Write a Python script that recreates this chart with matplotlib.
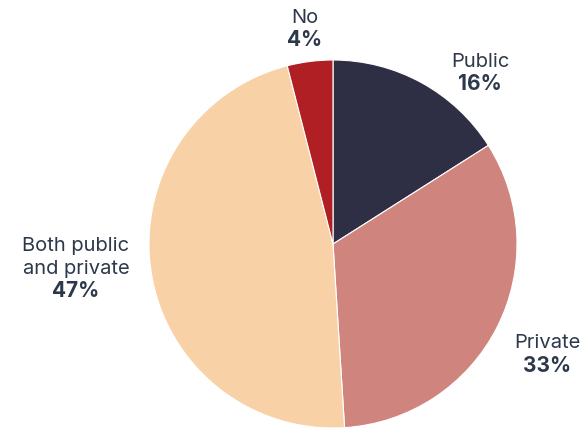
import matplotlib
matplotlib.use("Agg")
import matplotlib.pyplot as plt

categories = ["Public", "Private", "Both public\nand private", "No"]
values = [16, 33, 47, 4]
colors = ["#2e2f45", "#d0847e", "#f8d2a6", "#b01f24"]

W, H = 585, 429
fig = plt.figure(figsize=(W / 100, H / 100), dpi=100)

cx, cy, r = 333, 244, 184
ax = fig.add_axes([(cx - r) / W, (H - cy - r) / H, 2 * r / W, 2 * r / H])
ax.pie(values, colors=colors, startangle=90, counterclock=False,
       wedgeprops=dict(edgecolor="white", linewidth=0.8))
ax.set_xlim(-1, 1)
ax.set_ylim(-1, 1)
ax.set_aspect("equal")
ax.axis("off")

text_color = "#2d394b"
font = "Inter"
fs = 14.5
# label anchor points in pixels (x center, y of the first line)
label_pos = [(480, 62), (547, 343), (76, 246), (305, 18)]
line_h = 22.5
for name, val, (x, y) in zip(categories, values, label_pos):
    lines = name.split("\n")
    for i, ln in enumerate(lines):
        fig.text(x / W, 1 - (y + i * line_h) / H, ln, ha="center", va="center",
                 fontsize=fs, color=text_color, family=font)
    fig.text(x / W, 1 - (y + len(lines) * line_h) / H, f"{val}%", ha="center",
             va="center", fontsize=fs + 0.5, color=text_color, family=font,
             fontweight="bold")

fig.savefig("out.png", dpi=100, facecolor="white")
